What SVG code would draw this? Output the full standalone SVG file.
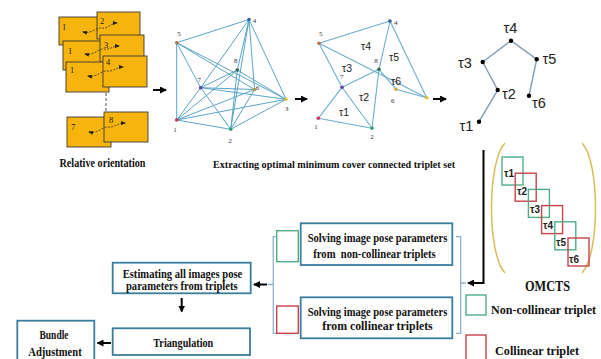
<svg xmlns="http://www.w3.org/2000/svg" width="601" height="359" viewBox="0 0 601 359">
<defs>
<marker id="ah" markerWidth="3.5" markerHeight="3.5" refX="3" refY="1.75" orient="auto" markerUnits="strokeWidth"><path d="M0,0 L3.5,1.75 L0,3.5 z" fill="#000"/></marker>
<marker id="sa" markerWidth="5" markerHeight="5" refX="4" refY="2.5" orient="auto-start-reverse" markerUnits="userSpaceOnUse"><path d="M0,0.5 L5,2.5 L0,4.5 z" fill="#222"/></marker>
</defs>
<style>
.card{fill:#f6b40c;stroke:#3a3a3a;stroke-width:0.9}
.cl{font-family:"Liberation Serif",serif;font-size:8.5px;fill:#222}
.rel{fill:none;stroke:#333;stroke-width:0.8;stroke-dasharray:2 1.3;marker-start:url(#sa);marker-end:url(#sa)}
.ar{stroke:#000;stroke-width:2;fill:none;marker-end:url(#ah)}
.e1{stroke:#5aa5c8;stroke-width:1;fill:none}
.e2{stroke:#6aaed0;stroke-width:1.1;fill:none}
.te{stroke:#7f9ab4;stroke-width:1.4;fill:none}
.nl{font-family:"Liberation Serif",serif;font-size:7px;fill:#333;text-anchor:middle}
.tl{font-family:"Liberation Sans",sans-serif;font-size:10.5px;fill:#222;text-anchor:middle}
.tt{font-family:"Liberation Sans",sans-serif;font-size:14.5px;fill:#222}
.ot{font-family:"Liberation Sans",sans-serif;font-size:10px;font-weight:bold;fill:#222}
.bt{font-family:"Liberation Serif",serif;font-weight:bold;fill:#111;text-anchor:middle;font-size:12.5px}
.box{fill:#fff;stroke:#3b7d9e;stroke-width:1.8}
.gs{fill:none;stroke:#4fae86;stroke-width:1.4}
.rs{fill:none;stroke:#c8434b;stroke-width:1.4}
.br{fill:none;stroke:#8fb3cc;stroke-width:1.3}
</style>
<rect width="601" height="359" fill="#fff"/>

<g id="images">
<rect class="card" x="59" y="17" width="42" height="28"/>
<rect class="card" x="97" y="12" width="43" height="27"/>
<rect class="card" x="63" y="41" width="42" height="29"/>
<rect class="card" x="100" y="35" width="44" height="27"/>
<rect class="card" x="66" y="62" width="43" height="30"/>
<rect class="card" x="103" y="56" width="44" height="31"/>
<rect class="card" x="67" y="117" width="44" height="30"/>
<rect class="card" x="104" y="112" width="44" height="30"/>
<text class="cl" x="62" y="30">1</text><text class="cl" x="100" y="24">2</text>
<text class="cl" x="68" y="54">1</text><text class="cl" x="104" y="48">3</text>
<text class="cl" x="70" y="73">1</text><text class="cl" x="106" y="65">4</text>
<text class="cl" x="71" y="130">7</text><text class="cl" x="109" y="123">8</text>
<path class="rel" d="M83,32 C92,34 97,27 102,28 C108,29 111,23 117,23"/>
<path class="rel" d="M85,54 C94,56 99,48 104,49 C110,50 113,46 119,46"/>
<path class="rel" d="M88,76 C97,78 102,70 107,71 C113,72 117,67 123,67"/>
<path class="rel" d="M89,132 C98,134 103,126 108,127 C114,128 118,123 125,123"/>
<line x1="106" y1="93" x2="106" y2="111" stroke="#555" stroke-width="1" stroke-dasharray="3 2"/>
<text class="bt" x="102.5" y="166.5" textLength="86" lengthAdjust="spacingAndGlyphs">Relative orientation</text>
</g>

<g id="connectors">
<line class="ar" x1="153" y1="90" x2="166" y2="90"/>
<line class="ar" x1="295" y1="99" x2="307" y2="99"/>
<line class="ar" x1="433" y1="99" x2="446" y2="99"/>
<polyline class="ar" points="483.5,150 483.5,283 468,283"/>
<line class="ar" x1="267" y1="284.5" x2="254" y2="284.5"/>
<line class="ar" x1="181.7" y1="298" x2="181.7" y2="311.5"/>
<line class="ar" x1="111" y1="343" x2="97.5" y2="343"/>
<path class="br" d="M277,236.7 H273.3 V333.3 H277 M273.3,284.5 H268"/>
<path class="br" d="M456,236.7 H460.7 V333.3 H456 M460.7,283 H466"/>
</g>

<g id="full-graph">
<g class="e1">
<line x1="176.7" y1="42.7" x2="249" y2="19.5"/>
<line x1="176.7" y1="42.7" x2="176.7" y2="120"/>
<line x1="176.7" y1="42.7" x2="254.5" y2="89.5"/>
<line x1="176.7" y1="42.7" x2="286" y2="99.3"/>
<line x1="176.7" y1="42.7" x2="200.7" y2="87.7"/>
<line x1="249" y1="19.5" x2="200.7" y2="87.7"/>
<line x1="249" y1="19.5" x2="237.3" y2="70"/>
<line x1="249" y1="19.5" x2="254.5" y2="89.5"/>
<line x1="249" y1="19.5" x2="286" y2="99.3"/>
<line x1="249" y1="19.5" x2="230.7" y2="129.3"/>
<line x1="237.3" y1="70" x2="176.7" y2="120"/>
<line x1="237.3" y1="70" x2="200.7" y2="87.7"/>
<line x1="237.3" y1="70" x2="230.7" y2="129.3"/>
<line x1="237.3" y1="70" x2="286" y2="99.3"/>
<line x1="200.7" y1="87.7" x2="286" y2="99.3"/>
<line x1="200.7" y1="87.7" x2="176.7" y2="120"/>
<line x1="200.7" y1="87.7" x2="230.7" y2="129.3"/>
<line x1="200.7" y1="87.7" x2="254.5" y2="89.5"/>
<line x1="254.5" y1="89.5" x2="176.7" y2="120"/>
<line x1="254.5" y1="89.5" x2="230.7" y2="129.3"/>
<line x1="286" y1="99.3" x2="176.7" y2="120"/>
<line x1="286" y1="99.3" x2="230.7" y2="129.3"/>
<line x1="176.7" y1="120" x2="230.7" y2="129.3"/>
</g>
<circle cx="176.7" cy="42.7" r="1.8" fill="#b07040"/>
<circle cx="249" cy="19.5" r="1.8" fill="#3060a0"/>
<circle cx="237.3" cy="70" r="1.8" fill="#2a7050"/>
<circle cx="200.7" cy="87.7" r="1.8" fill="#6040a0"/>
<circle cx="254.5" cy="89.5" r="1.8" fill="#b0a040"/>
<circle cx="286" cy="99.3" r="1.8" fill="#e8c030"/>
<circle cx="176.7" cy="120" r="1.8" fill="#d03060"/>
<circle cx="230.7" cy="129.3" r="1.8" fill="#30a070"/>
<text class="nl" x="179" y="36">5</text><text class="nl" x="254.5" y="23">4</text>
<text class="nl" x="235.7" y="63">8</text><text class="nl" x="199.3" y="82">7</text>
<text class="nl" x="257.5" y="90">6</text><text class="nl" x="286.7" y="111">3</text>
<text class="nl" x="175" y="132">1</text><text class="nl" x="230" y="143">2</text>
</g>

<g id="triplet-graph">
<g class="e2">
<line x1="319" y1="43.3" x2="390" y2="21"/>
<line x1="390" y1="21" x2="379" y2="69.3"/>
<line x1="319" y1="43.3" x2="426.7" y2="97.7"/>
<line x1="390" y1="21" x2="426.7" y2="97.7"/>
<line x1="379" y1="69.3" x2="396" y2="89.3"/>
<line x1="396" y1="89.3" x2="426.7" y2="97.7"/>
<line x1="379" y1="69.3" x2="372" y2="128.3"/>
<line x1="342" y1="87.3" x2="379" y2="69.3"/>
<line x1="319" y1="43.3" x2="342" y2="87.3"/>
<line x1="342" y1="87.3" x2="318.3" y2="118.3"/>
<line x1="342" y1="87.3" x2="372" y2="128.3"/>
<line x1="318.3" y1="118.3" x2="372" y2="128.3"/>
</g>
<circle cx="390" cy="21" r="1.8" fill="#3060a0"/>
<circle cx="319" cy="43.3" r="1.8" fill="#b07040"/>
<circle cx="379" cy="69.3" r="1.8" fill="#2a7050"/>
<circle cx="342" cy="87.3" r="1.8" fill="#6040a0"/>
<circle cx="396" cy="89.3" r="1.8" fill="#c8b040"/>
<circle cx="426.7" cy="97.7" r="1.8" fill="#e8c030"/>
<circle cx="318.3" cy="118.3" r="1.8" fill="#d03060"/>
<circle cx="372" cy="128.3" r="1.8" fill="#30a070"/>
<text class="nl" x="395.7" y="25">4</text><text class="nl" x="320.7" y="36">5</text>
<text class="nl" x="376" y="63">8</text><text class="nl" x="341.7" y="79">7</text>
<text class="nl" x="392.7" y="103">6</text><text class="nl" x="316" y="129">1</text>
<text class="nl" x="372" y="139">2</text>
<text class="tl" x="366" y="50">τ4</text><text class="tl" x="394" y="61">τ5</text>
<text class="tl" x="347" y="72">τ3</text><text class="tl" x="364" y="101">τ2</text>
<text class="tl" x="344" y="116">τ1</text><text class="tl" x="396" y="85">τ6</text>
<text class="bt" x="334" y="167.5" textLength="242" lengthAdjust="spacingAndGlyphs" style="font-size:11.2px">Extracting optimal minimum cover connected triplet set</text>
</g>

<g id="tree">
<polyline class="te" points="482.7,62 511,40.7 536.7,59.3 529,95.7"/>
<polyline class="te" points="482.7,62 497.7,90 479,121.7"/>
<circle cx="511" cy="40.7" r="2.2"/><circle cx="482.7" cy="62" r="2.2"/>
<circle cx="536.7" cy="59.3" r="2.2"/><circle cx="497.7" cy="90" r="2.2"/>
<circle cx="529" cy="95.7" r="2.2"/><circle cx="479" cy="121.7" r="2.2"/>
<text class="tt" x="503.5" y="33">τ4</text>
<text class="tt" x="458" y="68">τ3</text>
<text class="tt" x="542.5" y="64">τ5</text>
<text class="tt" x="502" y="99">τ2</text>
<text class="tt" x="532" y="108">τ6</text>
<text class="tt" x="459.5" y="131">τ1</text>
</g>

<g id="omcts">
<path d="M505,143 C487,162 487,254 505,273" fill="none" stroke="#d8bc5c" stroke-width="1.5"/>
<path d="M582,143 C600,162 600,254 582,273" fill="none" stroke="#d8bc5c" stroke-width="1.5"/>
<rect class="gs" x="502" y="157" width="21" height="28"/>
<rect class="rs" x="515.2" y="173.2" width="21" height="28"/>
<rect class="gs" x="528.4" y="189.4" width="21" height="28"/>
<rect class="rs" x="541.6" y="205.6" width="21" height="28"/>
<rect class="gs" x="554.8" y="221.8" width="21" height="28"/>
<rect class="rs" x="568" y="238" width="21" height="28"/>
<text class="ot" x="504" y="177">τ1</text>
<text class="ot" x="517" y="195">τ2</text>
<text class="ot" x="530" y="213">τ3</text>
<text class="ot" x="543" y="229">τ4</text>
<text class="ot" x="556" y="246">τ5</text>
<text class="ot" x="569" y="263">τ6</text>
<text class="bt" x="547.5" y="291" textLength="45" lengthAdjust="spacingAndGlyphs" style="font-size:14px">OMCTS</text>
</g>

<g id="legend">
<rect class="gs" x="466" y="295" width="20" height="20"/>
<text class="bt" x="543.5" y="314" style="font-size:12.3px" textLength="105" lengthAdjust="spacingAndGlyphs">Non-collinear triplet</text>
<rect class="rs" x="466" y="335" width="20" height="26"/>
<text class="bt" x="537" y="355" style="font-size:13px" textLength="84" lengthAdjust="spacingAndGlyphs">Collinear triplet</text>
</g>

<g id="solve-noncollinear">
<rect class="gs" x="276.7" y="230.7" width="21.6" height="31"/>
<rect class="box" x="300.7" y="223.3" width="151.6" height="41.7"/>
<text class="bt" x="377.5" y="241.5" textLength="139.6" lengthAdjust="spacingAndGlyphs">Solving image pose parameters</text>
<text class="bt" x="374.5" y="257.5" textLength="122.4" lengthAdjust="spacingAndGlyphs" xml:space="preserve">from  non-collinear triplets</text>
</g>

<g id="solve-collinear">
<rect class="rs" x="276.7" y="306" width="21.6" height="27.3"/>
<rect class="box" x="300.7" y="297.3" width="151.6" height="41"/>
<text class="bt" x="377.5" y="315.5" textLength="139.6" lengthAdjust="spacingAndGlyphs">Solving image pose parameters</text>
<text class="bt" x="377.5" y="330" textLength="110.4" lengthAdjust="spacingAndGlyphs">from collinear triplets</text>
</g>

<g id="estimating">
<rect class="box" x="112.7" y="262.7" width="138" height="30.6"/>
<text class="bt" x="182.5" y="278" textLength="119.6" lengthAdjust="spacingAndGlyphs" style="font-size:11.5px">Estimating all images pose</text>
<text class="bt" x="181.8" y="289.5" textLength="111.7" lengthAdjust="spacingAndGlyphs" style="font-size:11.5px">parameters from triplets</text>
</g>

<g id="triangulation">
<rect class="box" x="112.7" y="328.3" width="137.3" height="26.7"/>
<text class="bt" x="183.3" y="346.5" textLength="60" lengthAdjust="spacingAndGlyphs">Triangulation</text>
</g>

<g id="bundle">
<rect class="box" x="17.3" y="320.7" width="77" height="42"/>
<text class="bt" x="54" y="338.5" textLength="29" lengthAdjust="spacingAndGlyphs">Bundle</text>
<text class="bt" x="55" y="355.5" textLength="53.4" lengthAdjust="spacingAndGlyphs">Adjustment</text>
</g>
</svg>
